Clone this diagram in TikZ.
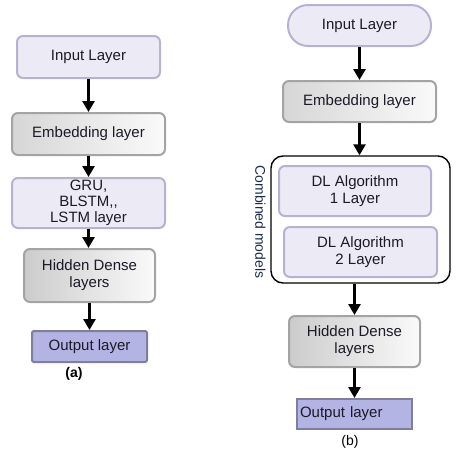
\documentclass[tikz,border=0pt]{standalone}
\usepackage{fontspec}
\setmainfont{Liberation Sans}
\usetikzlibrary{arrows.meta,calc}
\definecolor{lavfill}{HTML}{ECEBF5}
\definecolor{lavdraw}{HTML}{B6B2D2}
\definecolor{graydraw}{HTML}{A4A4A4}
\definecolor{outfill}{HTML}{B3B3E4}
\definecolor{outdraw}{HTML}{7E7E9E}
\definecolor{txt}{HTML}{1A1A28}
\definecolor{combtxt}{HTML}{1C2A4C}
\tikzset{
  box/.style={minimum width=#1, inner sep=0pt, line width=2pt, align=center, text=txt,
    font=\fontsize{15}{17}\selectfont},
  lav/.style={box=#1, draw=lavdraw, fill=lavfill, rounded corners=6pt},
  grad/.style={box=#1, draw=graydraw, left color=gray!32, right color=gray!4, rounded corners=6pt},
  outbox/.style={box=#1, draw=outdraw, fill=outfill, rounded corners=2pt},
  arr/.style={line width=2.6pt, black, -{Triangle[width=12pt,length=11pt]}},
  captext/.style={font=\fontsize{14}{16}\selectfont, text=black}
}
\begin{document}
\begin{tikzpicture}[x=1pt,y=-1pt]
\useasboundingbox (0,0) rectangle (458,456);
% (a)
\node[lav=143pt, minimum height=42pt] (inA) at (88.5,57) {Input Layer};
\node[grad=153pt, minimum height=42pt] (embA) at (88.5,134) {Embedding layer};
\node[lav=153pt, minimum height=50pt] (gruA) at (88.5,203) {GRU,\\[-1pt]BLSTM,{},\\[-1pt]LSTM layer};
\node[grad=131pt, minimum height=53pt, left color=gray!40] (hidA) at (89.5,275.5) {Hidden Dense\\layers};
\node[outbox=115pt, minimum height=31pt] (outA) at (89.5,346.5) {Output layer};
\node[captext, font=\fontsize{14}{16}\selectfont\bfseries] (capA) at (74,374) {(a)};
\draw[arr] (inA.south) -- (embA.north);
\draw[arr] (embA.south) -- (gruA.north);
\draw[arr] (gruA.south) -- (gruA.south |- hidA.north);
\draw[arr] (hidA.south) -- (hidA.south |- outA.north);
% (b)
\node[lav=143pt, minimum height=41pt, rounded corners=20pt] (inB) at (359.5,25.5) {Input Layer};
\node[grad=153pt, minimum height=41pt] (embB) at (359.5,101.5) {Embedding layer};
\node[draw=black, line width=1.4pt, rounded corners=12pt, minimum width=179pt, minimum height=127pt, inner sep=0pt] (comb) at (360.5,219.5) {};
\node[lav=152pt, minimum height=50pt] (dl1) at (355,191) {DL Algorithm\\1 Layer};
\node[lav=153pt, minimum height=50pt] (dl2) at (360.5,252) {DL Algorithm\\2 Layer};
\node[rotate=-90, font=\fontsize{14}{16}\selectfont, text=combtxt, anchor=center] (combl) at (260.5,222) {Combined models};
\node[grad=131pt, minimum height=51pt, left color=gray!40] (hidB) at (354.5,341.5) {Hidden Dense\\layers};
\node[box=115pt, minimum height=30pt, draw=outdraw, fill=outfill, align=left, text width=109pt] (outB) at (354.5,414) {Output layer};
\node[captext] (capB) at (350,442) {(b)};
\draw[arr] (inB.south) -- (embB.north);
\draw[arr] (embB.south) -- (embB.south |- comb.north);
\draw[arr] (hidB.north |- comb.south) -- (hidB.north);
\draw[arr] (hidB.south) -- (hidB.south |- outB.north);
\end{tikzpicture}
\end{document}
